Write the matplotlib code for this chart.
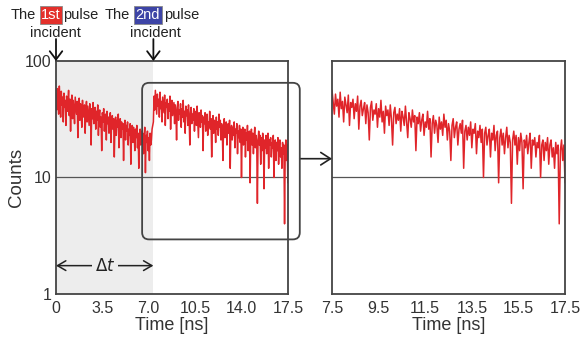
import matplotlib
matplotlib.use('Agg')
import matplotlib.pyplot as plt
import numpy as np
from matplotlib.patches import FancyBboxPatch
from matplotlib.ticker import NullLocator
from matplotlib.transforms import IdentityTransform

plt.rcParams['font.family'] = ['Liberation Sans', 'DejaVu Sans']

# photon counts per time bin
bin_width = 0.05
pulse2_t = 7.35
counts_1 = [
    52, 38, 58, 44, 35, 61, 47, 33, 55, 42,
    49, 30, 53, 40, 46, 28, 50, 37, 44, 56,
    34, 47, 25, 43, 51, 32, 46, 38, 29, 49,
    41, 35, 45, 22, 40, 48, 31, 43, 36, 27,
    46, 33, 39, 42, 24, 37, 45, 30, 41, 34,
    28, 43, 36, 19, 39, 32, 44, 29, 35, 40,
    26, 37, 31, 42, 23, 34, 38, 27, 33, 17,
    36, 30, 39, 25, 32, 35, 21, 37, 29, 33,
    24, 31, 36, 20, 30, 34, 26, 32, 15, 29,
    33, 23, 31, 27, 35, 18, 28, 32, 22, 30,
    26, 29, 14, 27, 31, 21, 28, 25, 30, 19,
    26, 23, 29, 13, 25, 28, 20, 27, 24, 17,
    26, 22, 28, 18, 24, 12, 23, 26, 19, 25,
    21, 24, 16, 22, 27, 11, 23, 20, 25, 17,
    22, 14, 24, 19, 21, 26,
]
counts_2 = [
    30, 50, 38, 56, 44, 35, 52, 41, 47, 33,
    54, 39, 45, 30, 49, 42, 36, 51, 28, 44,
    40, 47, 32, 43, 37, 50, 26, 41, 46, 34,
    39, 44, 29, 42, 36, 21, 40, 45, 31, 38,
    35, 43, 27, 39, 33, 46, 30, 37, 24, 41,
    34, 38, 28, 42, 32, 19, 36, 40, 29, 35,
    31, 39, 25, 37, 33, 28, 41, 30, 22, 36,
    32, 27, 38, 30, 34, 17, 33, 29, 36, 25,
    31, 35, 23, 30, 27, 37, 26, 32, 15, 29,
    34, 24, 31, 28, 20, 33, 26, 30, 23, 35,
    27, 31, 21, 29, 25, 14, 28, 32, 22, 27,
    30, 19, 26, 29, 24, 31, 12, 25, 28, 21,
    27, 23, 30, 18, 26, 24, 29, 16, 25, 22,
    28, 20, 26, 10, 24, 27, 19, 23, 26, 15,
    24, 21, 28, 17, 23, 25, 9, 22, 26, 19,
    24, 16, 22, 27, 18, 23, 20, 6, 21, 25,
    19, 23, 13, 22, 17, 24, 20, 8, 21, 18,
    23, 16, 20, 24, 12, 21, 19, 22, 15, 20,
    18, 23, 10, 19, 21, 14, 20, 17, 22, 13,
    19, 21, 15, 18, 12, 20, 16, 19, 4, 17,
    21, 14, 19, 9, 25,
]
time = np.concatenate([np.arange(len(counts_1)) * bin_width,
                       pulse2_t + np.arange(len(counts_2)) * bin_width])
counts = np.array(counts_1 + counts_2, dtype=float)

xticks_left = [0, 3.5, 7.0, 10.5, 14.0, 17.5]
xlabels_left = ['0', '3.5', '7.0', '10.5', '14.0', '17.5']
xticks_right = [7.5, 9.5, 11.5, 13.5, 15.5, 17.5]
yticks = [1, 10, 100]

red = '#e0252a'
shade = '#ededed'
edge = '#444444'

fig = plt.figure(figsize=(5.87, 3.41), dpi=100)
ax1 = fig.add_axes([0.0954, 0.138, 0.395, 0.683])
ax2 = fig.add_axes([0.5656, 0.138, 0.397, 0.683])

for ax in (ax1, ax2):
    ax.set_yscale('log')
    ax.set_ylim(1, 100)
    ax.axhline(10, color='#555555', lw=0.9, zorder=1)
    ax.plot(time, counts, color=red, lw=1.1, zorder=2)
    ax.yaxis.set_minor_locator(NullLocator())
    ax.tick_params(length=0, labelsize=11.5, colors='#333333', pad=5)
    for s in ax.spines.values():
        s.set_color(edge)
        s.set_linewidth(1.3)
    ax.set_xlabel('Time [ns]', fontsize=13, color='#333333', labelpad=1)

ax1.axvspan(0, pulse2_t, color=shade, lw=0, zorder=0)
ax1.set_xlim(0, 17.5)
ax1.set_xticks(xticks_left, xlabels_left)
ax1.set_yticks(yticks, ['1', '10', '100'])
ax1.tick_params(axis='y', pad=3)
ax1.set_ylabel('Counts', fontsize=13.5, color='#333333', labelpad=0)

ax2.set_xlim(7.5, 17.5)
ax2.set_xticks(xticks_right, [str(v) for v in xticks_right])
ax2.set_yticks(yticks, ['', '', ''])

# delta t arrow
ax1.annotate('', xy=(0, 1.75), xytext=(pulse2_t, 1.75),
             arrowprops=dict(arrowstyle='<->, head_length=0.6, head_width=0.35',
                             color='#222222', lw=1.1, shrinkA=0, shrinkB=0))
ax1.text(3.7, 1.75, r'$\Delta t$', fontsize=12, ha='center', va='center',
         color='#222222', bbox=dict(facecolor=shade, edgecolor='none', pad=2))

# pulse arrows on top
for t in (0, pulse2_t):
    ax1.annotate('', xy=(t, 100), xytext=(0, 22), textcoords='offset pixels',
                 arrowprops=dict(arrowstyle='->, head_length=0.6, head_width=0.45',
                                 color='#111111', lw=1.3, shrinkA=0, shrinkB=0),
                 annotation_clip=False)

def px(x, y):
    return x / 587, 1 - y / 341

kw = dict(fontsize=10.5, ha='center', va='center', color='#222222')
fig.text(*px(23, 15), 'The', **kw)
fig.text(*px(51, 15), '1st', fontsize=10.5, ha='center', va='center', color='white',
         bbox=dict(facecolor='#e3302b', edgecolor='#888888', lw=0.6, pad=1.2))
fig.text(*px(81, 15), 'pulse', **kw)
fig.text(*px(55, 33), 'incident', **kw)
fig.text(*px(117, 15), 'The', **kw)
fig.text(*px(148, 15), '2nd', fontsize=10.5, ha='center', va='center', color='white',
         bbox=dict(facecolor='#3d44a6', edgecolor='#888888', lw=0.6, pad=1.2))
fig.text(*px(182, 15), 'pulse', **kw)
fig.text(*px(155, 33), 'incident', **kw)

# rounded zoom box (left-axes data coords) and arrow to right panel
box_x = (6.5, 18.4)
box_y = (2.94, 65)
(x0, y0), (x1, y1) = ax1.transData.transform([(box_x[0], box_y[0]), (box_x[1], box_y[1])])
fig.patches.append(FancyBboxPatch((x0, y0), x1 - x0, y1 - y0,
                                  boxstyle='round,pad=0,rounding_size=7',
                                  transform=IdentityTransform(), fill=False,
                                  edgecolor=edge, lw=1.3, zorder=5))
ax2.annotate('', xy=(7.5, 14.5), xycoords='data',
             xytext=(box_x[1], 14.5), textcoords=ax1.transData,
             arrowprops=dict(arrowstyle='->, head_length=0.7, head_width=0.45',
                             color='#222222', lw=1.2, shrinkA=0, shrinkB=0),
             annotation_clip=False)

fig.savefig('out.png', dpi=100)
